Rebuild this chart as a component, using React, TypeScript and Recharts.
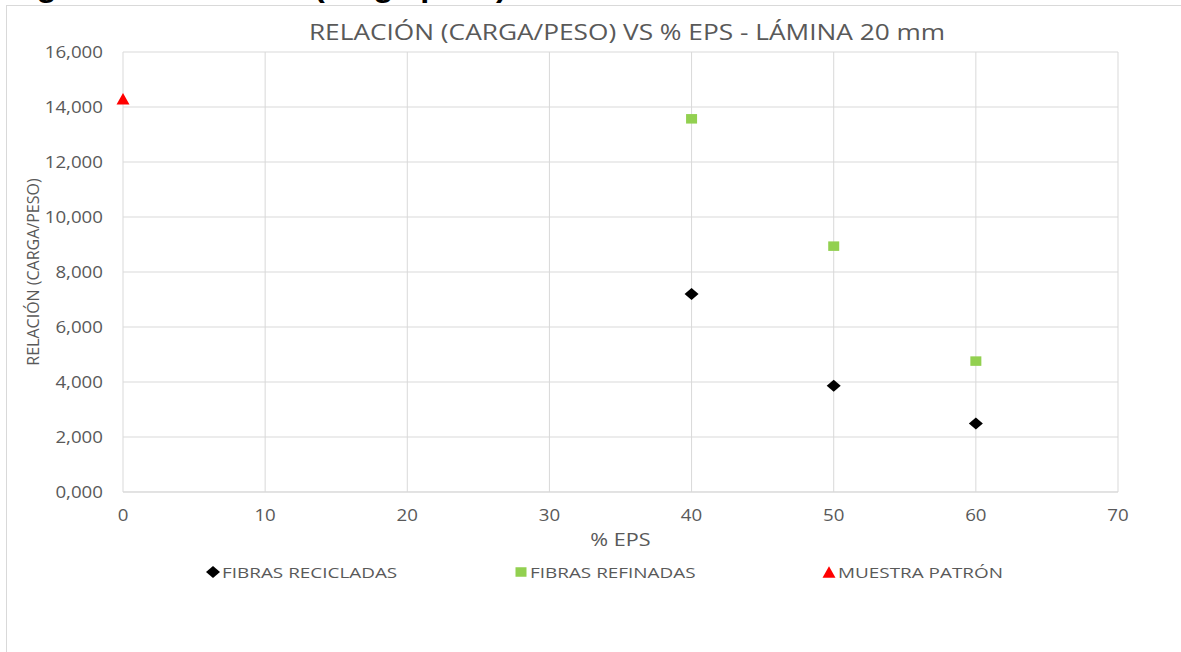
import { CartesianGrid, Legend, Scatter, ScatterChart, XAxis, YAxis } from 'recharts'

// % EPS en cada mezcla
const epsRecicladas = [40, 50, 60]
const epsRefinadas = [40, 50, 60]
const epsPatron = [0]

// relación carga/peso
const relRecicladas = [7.2, 3.86, 2.49]
const relRefinadas = [13.57, 8.94, 4.76]
const relPatron = [14.3]

const xTicks = [0, 10, 20, 30, 40, 50, 60, 70]
const yTicks = [0, 2, 4, 6, 8, 10, 12, 14, 16]

const TITLE = 'RELACIÓN (CARGA/PESO) VS % EPS - LÁMINA 20 mm'
const Y_LABEL = 'RELACIÓN (CARGA/PESO)'
const X_LABEL = '% EPS'
const HEADING = 'Figura 12. Relación (carga/peso)'

const SERIES = {
  recicladas: { name: 'FIBRAS RECICLADAS', color: '#000000' },
  refinadas: { name: 'FIBRAS REFINADAS', color: '#92d050' },
  patron: { name: 'MUESTRA PATRÓN', color: '#ff0000' },
}

const toPoints = (xs: number[], ys: number[]) => xs.map((x, i) => ({ x, y: ys[i] }))

const GRID = '#d9d9d9'
const TEXT = '#595959'
const FONT = '"Open Sans", sans-serif'

const fmt = (v: number) => v.toFixed(3).replace('.', ',')

// texto de eje algo ensanchado, como lo pinta Excel al estirar el gráfico
function WideTick({ x, y, payload, textAnchor, formatter, shift }: any) {
  const label = formatter ? formatter(payload.value) : String(payload.value)
  return (
    <text
      x={x}
      y={y}
      dy={shift}
      textAnchor={textAnchor}
      fill={TEXT}
      fontSize={17}
      fontFamily={FONT}
      transform={`translate(${x} 0) scale(1.1 1) translate(${-x} 0)`}
    >
      {label}
    </text>
  )
}

// marcadores estilo Excel (ligeramente más anchos que altos)
function Diamond({ cx, cy, fill }: any) {
  if (cx == null || cy == null) return null
  return <polygon points={`${cx - 7},${cy} ${cx},${cy - 6} ${cx + 7},${cy} ${cx},${cy + 6}`} fill={fill} />
}

function Square({ cx, cy, fill }: any) {
  if (cx == null || cy == null) return null
  return <rect x={cx - 5.5} y={cy - 4.75} width={11} height={9.5} fill={fill} />
}

function Triangle({ cx, cy, fill }: any) {
  if (cx == null || cy == null) return null
  return <polygon points={`${cx - 6.5},${cy + 5.8} ${cx},${cy - 5.8} ${cx + 6.5},${cy + 5.8}`} fill={fill} />
}

const ICONS: Record<string, (p: any) => any> = {
  [SERIES.recicladas.name]: Diamond,
  [SERIES.refinadas.name]: Square,
  [SERIES.patron.name]: Triangle,
}

function LegendContent({ payload }: any) {
  return (
    <div style={{ display: 'flex', justifyContent: 'flex-start', paddingLeft: 205 }}>
      {(payload || []).map((item: any) => {
        const Icon = ICONS[item.value]
        return (
          <div key={item.value} style={{ display: 'flex', alignItems: 'center', width: 308 }}>
            <svg width={16} height={16} style={{ marginRight: 1 }}>
              <Icon cx={8} cy={8} fill={item.color} />
            </svg>
            <span
              style={{
                display: 'inline-block',
                color: TEXT,
                fontSize: 15,
                fontFamily: FONT,
                whiteSpace: 'nowrap',
                transform: 'scaleX(1.26)',
                transformOrigin: 'left center',
              }}
            >
              {item.value}
            </span>
          </div>
        )
      })}
    </div>
  )
}

export default function App() {
  return (
    <div
      style={{
        position: 'absolute',
        left: 0,
        top: 0,
        width: 1181,
        height: 652,
        overflow: 'hidden',
        background: '#fff',
        fontFamily: FONT,
      }}
    >
      {/* pie de figura del documento, recortado por arriba */}
      <div
        style={{
          position: 'absolute',
          left: 8,
          top: -30,
          fontFamily: '"Liberation Sans", Arial, sans-serif',
          fontWeight: 700,
          fontSize: 30,
          color: '#000',
          whiteSpace: 'nowrap',
          transform: 'scaleX(1.08)',
          transformOrigin: 'left top',
        }}
      >
        {HEADING}
      </div>
      <div
        style={{
          position: 'absolute',
          left: 6,
          top: 5,
          width: 1200,
          height: 700,
          borderTop: `1px solid ${GRID}`,
          borderLeft: `1px solid ${GRID}`,
          background: '#fff',
        }}
      />
      <div
        style={{
          position: 'absolute',
          left: 0,
          top: 18,
          width: 1254,
          textAlign: 'center',
          color: TEXT,
          fontSize: 21,
          whiteSpace: 'nowrap',
          transform: 'scaleX(1.25)',
          transformOrigin: '627px 0',
        }}
      >
        {TITLE}
      </div>
      <div style={{ position: 'absolute', left: 0, top: 0 }}>
        <ScatterChart width={1181} height={652} margin={{ top: 52, right: 63, bottom: 130, left: 43 }}>
          <CartesianGrid stroke={GRID} strokeWidth={1} />
          <XAxis
            type="number"
            dataKey="x"
            domain={[0, 70]}
            ticks={xTicks}
            height={30}
            axisLine={{ stroke: GRID }}
            tickLine={false}
            tickMargin={11}
            tick={<WideTick shift="0.71em" />}
            label={{
              value: X_LABEL,
              position: 'bottom',
              offset: 11,
              style: { fill: TEXT, fontSize: 18, fontFamily: FONT },
              transform: 'translate(621 0) scale(1.2 1) translate(-621 0)',
            }}
          />
          <YAxis
            type="number"
            dataKey="y"
            domain={[0, 16]}
            ticks={yTicks}
            width={80}
            axisLine={false}
            tickLine={false}
            tickMargin={14}
            tick={<WideTick formatter={fmt} shift="0.355em" />}
            label={{
              value: Y_LABEL,
              angle: -90,
              position: 'insideLeft',
              offset: -10,
              style: { fill: TEXT, fontSize: 16, fontFamily: FONT, textAnchor: 'middle' },
            }}
          />
          <Legend
            verticalAlign="middle"
            layout="horizontal"
            content={<LegendContent />}
            wrapperStyle={{ top: 562, left: 0, width: 1181 }}
          />
          <Scatter
            name={SERIES.recicladas.name}
            data={toPoints(epsRecicladas, relRecicladas)}
            fill={SERIES.recicladas.color}
            shape={Diamond}
            isAnimationActive={false}
          />
          <Scatter
            name={SERIES.refinadas.name}
            data={toPoints(epsRefinadas, relRefinadas)}
            fill={SERIES.refinadas.color}
            shape={Square}
            isAnimationActive={false}
          />
          <Scatter
            name={SERIES.patron.name}
            data={toPoints(epsPatron, relPatron)}
            fill={SERIES.patron.color}
            shape={Triangle}
            isAnimationActive={false}
          />
        </ScatterChart>
      </div>
    </div>
  )
}
